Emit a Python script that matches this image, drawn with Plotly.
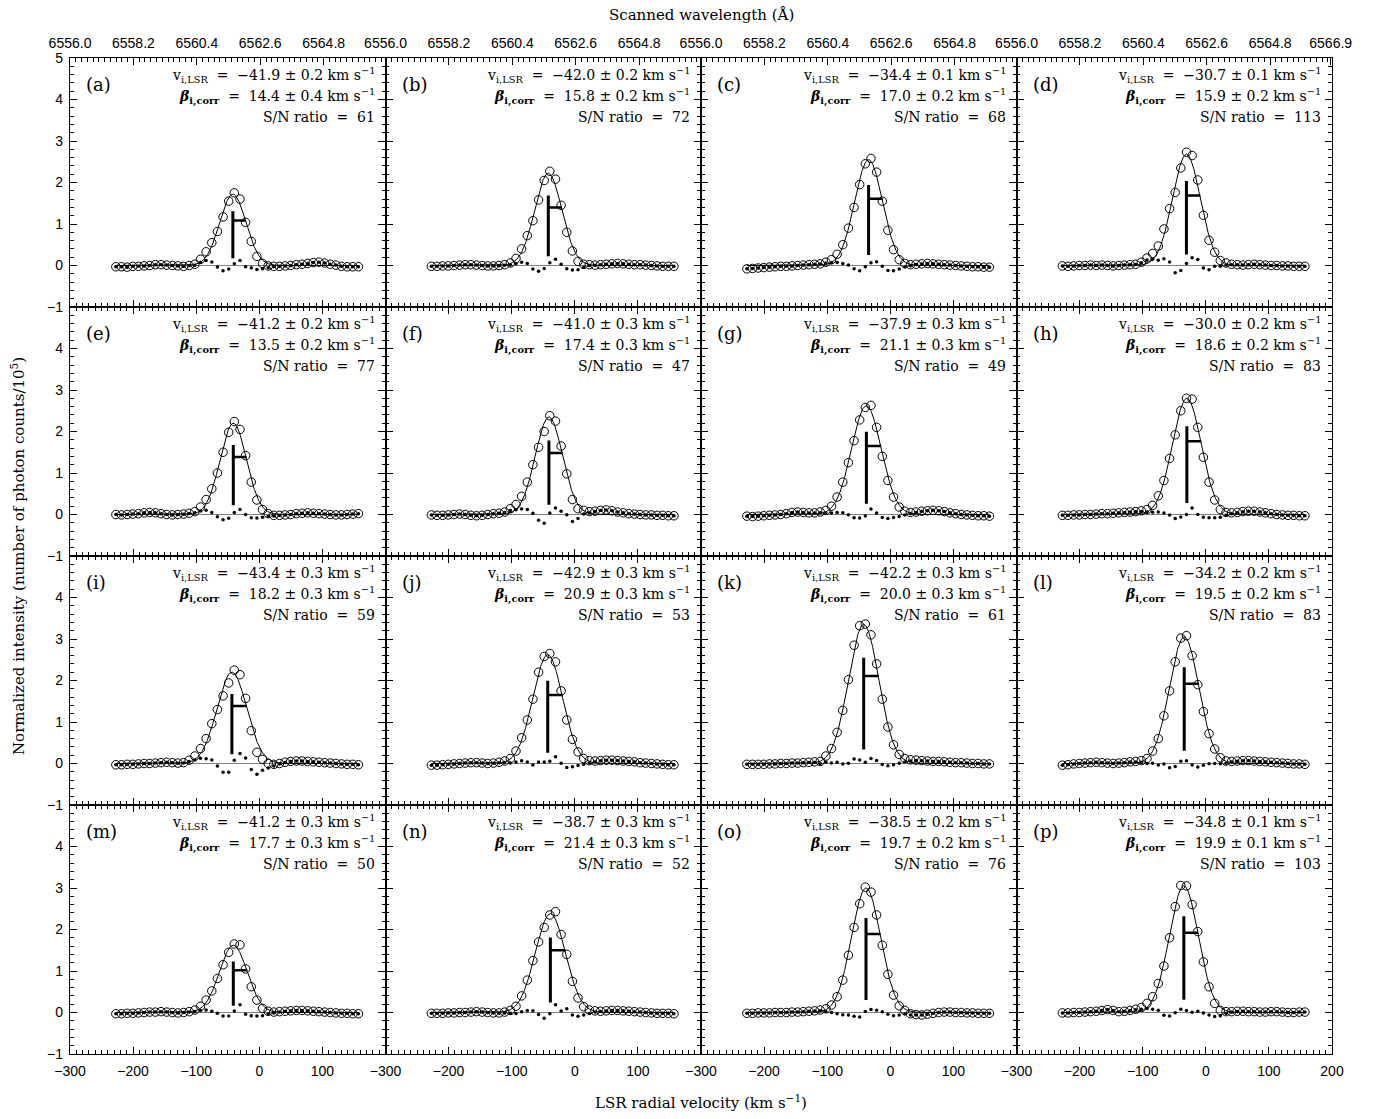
import numpy as np
import plotly.graph_objects as go
from plotly.subplots import make_subplots

# ---------------- data ----------------
VELOCITY = [-227.3, -218.4, -209.4, -200.5, -191.5, -182.6, -173.7, -164.7, -155.8, -146.8,
            -137.9, -129.0, -120.0, -111.1, -102.1, -93.2, -84.3, -75.3, -66.4, -57.4,
            -48.5, -39.6, -30.6, -21.7, -12.7, -3.8, 5.1, 14.1, 23.0, 32.0,
            40.9, 49.8, 58.8, 67.7, 76.7, 85.6, 94.5, 103.5, 112.4, 121.4,
            130.3, 139.2, 148.2, 157.1]

PANEL_LABELS = ["(a)", "(b)", "(c)", "(d)", "(e)", "(f)", "(g)", "(h)",
                "(i)", "(j)", "(k)", "(l)", "(m)", "(n)", "(o)", "(p)"]
V_LSR = [-41.9, -42.0, -34.4, -30.7, -41.2, -41.0, -37.9, -30.0,
         -43.4, -42.9, -42.2, -34.2, -41.2, -38.7, -38.5, -34.8]
V_ERR = [0.2, 0.2, 0.1, 0.1, 0.2, 0.3, 0.3, 0.2, 0.3, 0.3, 0.3, 0.2, 0.3, 0.3, 0.2, 0.1]
BETA = [14.4, 15.8, 17.0, 15.9, 13.5, 17.4, 21.1, 18.6, 18.2, 20.9, 20.0, 19.5, 17.7, 21.4, 19.7, 19.9]
BETA_ERR = [0.4, 0.2, 0.2, 0.2, 0.2, 0.3, 0.3, 0.2, 0.3, 0.3, 0.3, 0.2, 0.3, 0.3, 0.2, 0.1]
SN_RATIO = [61, 72, 68, 113, 77, 47, 49, 83, 59, 53, 61, 83, 50, 52, 76, 103]

FIT_AMP = [1.72, 2.22, 2.55, 2.68, 2.20, 2.35, 2.62, 2.80, 2.20, 2.62, 3.35, 3.05, 1.62, 2.38, 3.00, 3.05]
FIT_SIGMA = [20.7, 21.5, 22.0, 22.0, 20.8, 21.5, 23.5, 22.8, 23.5, 23.5, 24.0, 23.2, 22.0, 23.8, 23.0, 23.0]

INT_A = [-0.03, -0.03, -0.04, -0.02, -0.02, -0.01, 0.00, 0.02, 0.02, 0.01, 0.00, -0.01, -0.02,
         0.00, 0.03, 0.15, 0.33, 0.55, 0.82, 1.17, 1.55, 1.75, 1.60, 1.04, 0.58, 0.22, 0.05,
         -0.01, -0.02, -0.02, -0.01, 0.00, 0.02, 0.03, 0.05, 0.07, 0.08, 0.06, 0.03, 0.01, -0.02, -0.03, -0.03, -0.03]
INT_B = [-0.02, -0.02, -0.01, -0.01, 0.00, 0.01, 0.02, 0.02, 0.01, 0.00, -0.01, -0.01, 0.00,
         0.02, 0.06, 0.17, 0.40, 0.72, 1.08, 1.58, 2.05, 2.27, 2.08, 1.45, 0.80, 0.35, 0.10,
         0.03, 0.02, 0.01, 0.02, 0.03, 0.04, 0.05, 0.04, 0.03, 0.02, 0.02, 0.01, 0.00, -0.01, -0.02, -0.02, -0.02]
INT_C = [-0.08, -0.07, -0.06, -0.05, -0.04, -0.03, -0.02, -0.02, -0.01, 0.00, 0.01, 0.02, 0.03,
         0.04, 0.08, 0.14, 0.27, 0.50, 0.90, 1.40, 1.95, 2.45, 2.58, 2.25, 1.55, 0.85, 0.38, 0.14, 0.05,
         0.02, 0.03, 0.04, 0.05, 0.04, 0.03, 0.02, 0.01, 0.00, -0.01, -0.02, -0.03, -0.03, -0.04, -0.04]
INT_D = [-0.01, -0.02, -0.01, 0.00, 0.00, 0.01, 0.00, 0.01, 0.00, -0.01, 0.00, 0.01, 0.02,
         0.03, 0.08, 0.18, 0.29, 0.47, 0.88, 1.37, 1.76, 2.35, 2.73, 2.65, 2.06, 1.21, 0.61, 0.32, 0.12, 0.06,
         0.03, 0.02, 0.01, 0.02, 0.03, 0.02, 0.01, 0.00, 0.00, -0.01, -0.01, -0.02, -0.02, -0.02]
INT_E = [0.00, -0.01, 0.00, 0.01, 0.02, 0.04, 0.05, 0.04, 0.02, 0.00, -0.01, 0.00, 0.01,
         0.03, 0.07, 0.18, 0.36, 0.62, 1.00, 1.50, 1.98, 2.24, 2.05, 1.42, 0.78, 0.35, 0.12, 0.02,
         -0.02, -0.02, -0.01, 0.00, 0.02, 0.03, 0.04, 0.03, 0.02, 0.01, 0.00, -0.01, -0.01, 0.00, 0.01, 0.02]
INT_F = [-0.01, -0.02, -0.02, -0.01, 0.00, 0.01, 0.00, -0.02, -0.03, -0.02, 0.00, 0.02, 0.03,
         0.06, 0.14, 0.24, 0.44, 0.78, 1.20, 1.62, 2.00, 2.38, 2.25, 1.65, 0.98, 0.36, 0.14, 0.10, 0.07,
         0.08, 0.10, 0.11, 0.09, 0.06, 0.04, 0.02, 0.01, 0.00, -0.01, -0.01, -0.02, -0.02, -0.03, -0.03]
INT_G = [-0.04, -0.05, -0.04, -0.03, -0.02, -0.01, 0.00, 0.02, 0.05, 0.06, 0.05, 0.04, 0.04,
         0.06, 0.10, 0.20, 0.42, 0.78, 1.25, 1.78, 2.28, 2.58, 2.63, 2.10, 1.40, 0.82, 0.42, 0.18, 0.08, 0.05,
         0.06, 0.08, 0.09, 0.10, 0.09, 0.07, 0.04, 0.02, 0.00, -0.01, -0.02, -0.03, -0.03, -0.04]
INT_H = [-0.02, -0.02, -0.01, -0.01, 0.00, 0.00, 0.01, 0.02, 0.02, 0.03, 0.04, 0.05, 0.06,
         0.07, 0.09, 0.12, 0.22, 0.45, 0.82, 1.35, 1.92, 2.50, 2.80, 2.78, 2.10, 1.38, 0.78, 0.35, 0.12, 0.05, 0.04,
         0.05, 0.07, 0.08, 0.08, 0.06, 0.04, 0.02, 0.00, -0.01, -0.02, -0.02, -0.03, -0.03]
INT_I = [-0.03, -0.03, -0.02, -0.02, -0.01, 0.00, 0.00, 0.01, 0.02, 0.03, 0.02, 0.01, 0.02,
         0.08, 0.18, 0.36, 0.60, 0.96, 1.30, 1.63, 1.94, 2.25, 2.14, 1.57, 0.79, 0.27, 0.10, 0.00, -0.02,
         0.00, 0.03, 0.05, 0.06, 0.06, 0.05, 0.04, 0.03, 0.02, 0.01, 0.00, -0.01, -0.02, -0.02, -0.03]
INT_J = [-0.04, -0.04, -0.03, -0.02, -0.01, 0.00, 0.01, 0.02, 0.02, 0.01, 0.00, 0.01, 0.03,
         0.06, 0.12, 0.30, 0.62, 1.05, 1.55, 2.20, 2.58, 2.65, 2.45, 1.75, 1.05, 0.58, 0.28, 0.12, 0.07,
         0.06, 0.07, 0.08, 0.08, 0.07, 0.06, 0.05, 0.04, 0.02, 0.01, 0.00, -0.01, -0.02, -0.03, -0.03]
INT_K = [-0.02, -0.02, -0.02, -0.02, -0.01, -0.01, 0.00, 0.00, 0.01, 0.01, 0.02, 0.03, 0.04,
         0.05, 0.18, 0.36, 0.75, 1.28, 2.02, 2.85, 3.32, 3.36, 3.10, 2.40, 1.55, 0.88, 0.45, 0.22, 0.12,
         0.09, 0.08, 0.07, 0.06, 0.05, 0.05, 0.04, 0.03, 0.02, 0.02, 0.01, 0.00, 0.00, -0.01, -0.01]
INT_L = [-0.04, -0.03, -0.01, 0.00, 0.01, 0.02, 0.03, 0.02, 0.01, 0.00, 0.01, 0.02, 0.04,
         0.05, 0.07, 0.12, 0.30, 0.60, 1.15, 1.75, 2.45, 3.02, 3.08, 2.60, 1.90, 1.25, 0.72, 0.35, 0.14, 0.06,
         0.05, 0.06, 0.07, 0.07, 0.06, 0.05, 0.04, 0.03, 0.02, 0.01, 0.00, -0.01, -0.01, -0.02]
INT_M = [-0.03, -0.03, -0.02, -0.02, -0.01, 0.00, 0.01, 0.01, 0.02, 0.01, 0.00, -0.01, 0.00,
         0.02, 0.06, 0.15, 0.30, 0.52, 0.82, 1.15, 1.45, 1.65, 1.63, 1.05, 0.62, 0.30, 0.10, 0.03,
         0.01, 0.02, 0.03, 0.04, 0.05, 0.05, 0.04, 0.03, 0.02, 0.01, 0.00, -0.01, -0.02, -0.02, -0.03, -0.03]
INT_N = [-0.02, -0.02, -0.02, -0.01, -0.01, 0.00, 0.00, 0.01, 0.02, 0.01, 0.00, -0.01, -0.01,
         0.01, 0.05, 0.15, 0.40, 0.78, 1.25, 1.70, 2.05, 2.35, 2.43, 1.88, 1.40, 0.75, 0.35, 0.14, 0.06,
         0.04, 0.03, 0.04, 0.05, 0.05, 0.04, 0.03, 0.02, 0.01, 0.00, -0.01, -0.02, -0.02, -0.02, -0.03]
INT_O = [-0.02, -0.02, -0.01, -0.01, -0.01, 0.00, 0.00, 0.00, 0.01, 0.01, 0.02, 0.03, 0.04,
         0.06, 0.09, 0.18, 0.38, 0.78, 1.38, 2.05, 2.62, 3.02, 2.90, 2.35, 1.62, 0.92, 0.42, 0.16, 0.05,
         -0.03, -0.05, -0.06, -0.04, -0.02, 0.00, 0.01, 0.01, 0.00, 0.00, -0.01, -0.01, -0.02, -0.02, -0.02]
INT_P = [-0.01, -0.01, 0.00, 0.00, 0.01, 0.02, 0.03, 0.05, 0.07, 0.05, 0.02, 0.03, 0.05,
         0.08, 0.12, 0.22, 0.38, 0.70, 1.12, 1.80, 2.55, 3.06, 3.05, 2.60, 1.95, 1.22, 0.62, 0.22, 0.05, 0.02,
         0.02, 0.03, 0.03, 0.02, 0.02, 0.01, 0.01, 0.02, 0.02, 0.01, 0.00, 0.00, 0.01, 0.01]

INTENSITIES = [INT_A, INT_B, INT_C, INT_D, INT_E, INT_F, INT_G, INT_H,
               INT_I, INT_J, INT_K, INT_L, INT_M, INT_N, INT_O, INT_P]

X_TICKS = [-300, -200, -100, 0, 100]
X_TICKS_LAST = [-300, -200, -100, 0, 100, 200]
Y_TICKS_TOP = [-1, 0, 1, 2, 3, 4, 5]
Y_TICKS = [-1, 0, 1, 2, 3, 4]
WL_TICKS = [6556.0, 6558.2, 6560.4, 6562.6, 6564.8]
WL_TICKS_LAST = [6556.0, 6558.2, 6560.4, 6562.6, 6564.8, 6566.9]

# ---------------- helpers ----------------
C_KMS = 299792.458
LAMBDA0 = 6562.8
WL_ORIGIN = 6556.0
V_ORIGIN = -300.0


def wl_to_v(wl):
    return V_ORIGIN + (wl - WL_ORIGIN) * C_KMS / LAMBDA0


def gauss(v, amp, v0, sig):
    v = np.asarray(v, dtype=float)
    return amp * np.exp(-0.5 * ((v - v0) / sig) ** 2)


SERIF = "DejaVu Serif, Liberation Serif, serif"
SANS = "Liberation Sans, Arial, Helvetica, sans-serif"

fig = make_subplots(rows=4, cols=4, horizontal_spacing=0, vertical_spacing=0)

vel = np.array(VELOCITY)
vfine = np.linspace(vel[0], vel[-1], 500)

for idx in range(16):
    r = idx // 4 + 1
    c = idx % 4 + 1
    obs = np.array(INTENSITIES[idx])
    amp, v0, sig = FIT_AMP[idx], V_LSR[idx], FIT_SIGMA[idx]
    resid = obs - gauss(vel, amp, v0, sig)

    # zero line
    fig.add_trace(go.Scatter(x=[vel[0], vel[-1]], y=[0, 0], mode="lines",
                             line=dict(color="#808080", width=1), hoverinfo="skip"), row=r, col=c)
    # fit curve
    fig.add_trace(go.Scatter(x=vfine, y=gauss(vfine, amp, v0, sig), mode="lines",
                             line=dict(color="black", width=1), hoverinfo="skip"), row=r, col=c)
    # data
    fig.add_trace(go.Scatter(x=vel, y=obs, mode="markers",
                             marker=dict(symbol="circle-open", size=8.5, color="black",
                                         line=dict(width=1, color="black"))), row=r, col=c)
    # residuals
    fig.add_trace(go.Scatter(x=vel, y=resid, mode="markers",
                             marker=dict(symbol="circle", size=3.5, color="black")), row=r, col=c)
    # centroid / width marker
    fig.add_trace(go.Scatter(x=[v0, v0], y=[0.10 * amp, 0.76 * amp], mode="lines",
                             line=dict(color="black", width=3)), row=r, col=c)
    fig.add_trace(go.Scatter(x=[v0, v0 + sig], y=[0.63 * amp, 0.63 * amp], mode="lines",
                             line=dict(color="black", width=2.5)), row=r, col=c)

    last_col = (c == 4)
    bottom = (r == 4)
    xt = X_TICKS_LAST if last_col else X_TICKS
    fig.update_xaxes(
        range=[-300, 200], showgrid=False, zeroline=False, automargin=False,
        showline=True, linecolor="black", linewidth=1.3,
        mirror=True if r == 1 else "ticks",
        ticks="inside", ticklen=7, tickwidth=1, tickcolor="black",
        tickmode="array", tickvals=xt, ticktext=[str(t).replace("-", "\u2212") for t in xt],
        showticklabels=bottom, ticklabelstandoff=4,
        tickfont=dict(family=SANS, size=14, color="black"),
        minor=dict(ticks="inside", ticklen=3.5, tickwidth=1, tickcolor="black",
                   tickmode="array", tickvals=list(range(-300, 201, 10)), showgrid=False),
        row=r, col=c)
    yt = Y_TICKS_TOP if r == 1 else Y_TICKS
    fig.update_yaxes(
        range=[-1, 5], showgrid=False, zeroline=False, automargin=False,
        showline=True, linecolor="black", linewidth=1.3, mirror="ticks",
        ticks="inside", ticklen=7, tickwidth=1, tickcolor="black",
        tickmode="array", tickvals=yt, ticktext=[str(t).replace("-", "\u2212") for t in yt],
        showticklabels=(c == 1), ticklabelstandoff=3,
        tickfont=dict(family=SANS, size=14, color="black"),
        minor=dict(ticks="inside", ticklen=3.5, tickwidth=1, tickcolor="black",
                   tickmode="array", tickvals=[round(-1 + 0.2 * k, 1) for k in range(31)], showgrid=False),
        row=r, col=c)

    i = idx + 1
    xd = "x domain" if i == 1 else f"x{i} domain"
    yd = "y domain" if i == 1 else f"y{i} domain"
    fig.add_annotation(x=0.045, y=0.895, xref=xd, yref=yd, xanchor="left", yanchor="middle",
                       text=PANEL_LABELS[idx], showarrow=False,
                       font=dict(family=SERIF, size=18, color="black"))
    line1 = (f"v<sub>i,LSR</sub>  =  {str(V_LSR[idx]).replace('-', chr(8722))} \u00b1 "
             f"{V_ERR[idx]:.1f} km s<sup>\u22121</sup>")
    line2 = (f"<b><i>\u03b2</i></b><sub><b>i,corr</b></sub>  =  {BETA[idx]:.1f} \u00b1 "
             f"{BETA_ERR[idx]:.1f} km s<sup>\u22121</sup>")
    line3 = f"S/N ratio  =  {SN_RATIO[idx]}"
    for txt, yy in ((line1, 0.932), (line2, 0.845), (line3, 0.762)):
        fig.add_annotation(x=0.972, y=yy, xref=xd, yref=yd, xanchor="right", yanchor="middle",
                           text=txt, showarrow=False,
                           font=dict(family=SERIF, size=14, color="black"))

# top wavelength axes on the first row
for c in range(1, 5):
    name = f"xaxis{16 + c}"
    base_x = "x" if c == 1 else f"x{c}"
    base_y = "y" if c == 1 else f"y{c}"
    wl = WL_TICKS_LAST if c == 4 else WL_TICKS
    minor_wl = [WL_ORIGIN + 0.2 * k for k in range(0, 56)]
    fig.layout[name] = dict(
        overlaying=base_x, anchor=base_y, side="top", range=[-300, 200],
        showgrid=False, zeroline=False, showline=False, automargin=False,
        ticks="inside", ticklen=7, tickwidth=1, tickcolor="black",
        tickmode="array", tickvals=[wl_to_v(w) for w in wl], ticktext=[f"{w:.1f}" for w in wl],
        ticklabelstandoff=6,
        tickfont=dict(family=SANS, size=14, color="black"),
        minor=dict(ticks="inside", ticklen=3.5, tickwidth=1, tickcolor="black",
                   tickmode="array", tickvals=[wl_to_v(w) for w in minor_wl if wl_to_v(w) <= 200.01],
                   showgrid=False),
    )
    fig.add_trace(go.Scatter(x=[None], y=[None], xaxis=f"x{16 + c}", yaxis=base_y,
                             mode="markers", showlegend=False, hoverinfo="skip"))

# global axis titles
fig.add_annotation(x=0.5, y=1, xref="paper", yref="paper", yshift=43, showarrow=False,
                   text="Scanned wavelength (\u00c5)", xanchor="center", yanchor="middle",
                   font=dict(family=SERIF, size=15, color="black"))
fig.add_annotation(x=0.5, y=0, xref="paper", yref="paper", yshift=-48, showarrow=False,
                   text="LSR radial velocity (km s<sup>\u22121</sup>)", xanchor="center", yanchor="middle",
                   font=dict(family=SERIF, size=15, color="black"))
fig.add_annotation(x=0, y=0.5, xref="paper", yref="paper", xshift=-52, showarrow=False,
                   text="Normalized intensity (number of photon counts/10<sup>5</sup>)",
                   textangle=-90, xanchor="center", yanchor="middle",
                   font=dict(family=SERIF, size=15, color="black"))

fig.update_layout(
    width=1375, height=1119,
    margin=dict(l=70, r=43, t=58, b=65, autoexpand=False),
    showlegend=False,
    plot_bgcolor="white", paper_bgcolor="white",
)

# remove the default 8 px page margin so the figure fills the window exactly
fig.write_html("out.html",
               config={"displayModeBar": False},
               post_script="document.body.style.margin='0px';document.body.style.overflow='hidden';")
